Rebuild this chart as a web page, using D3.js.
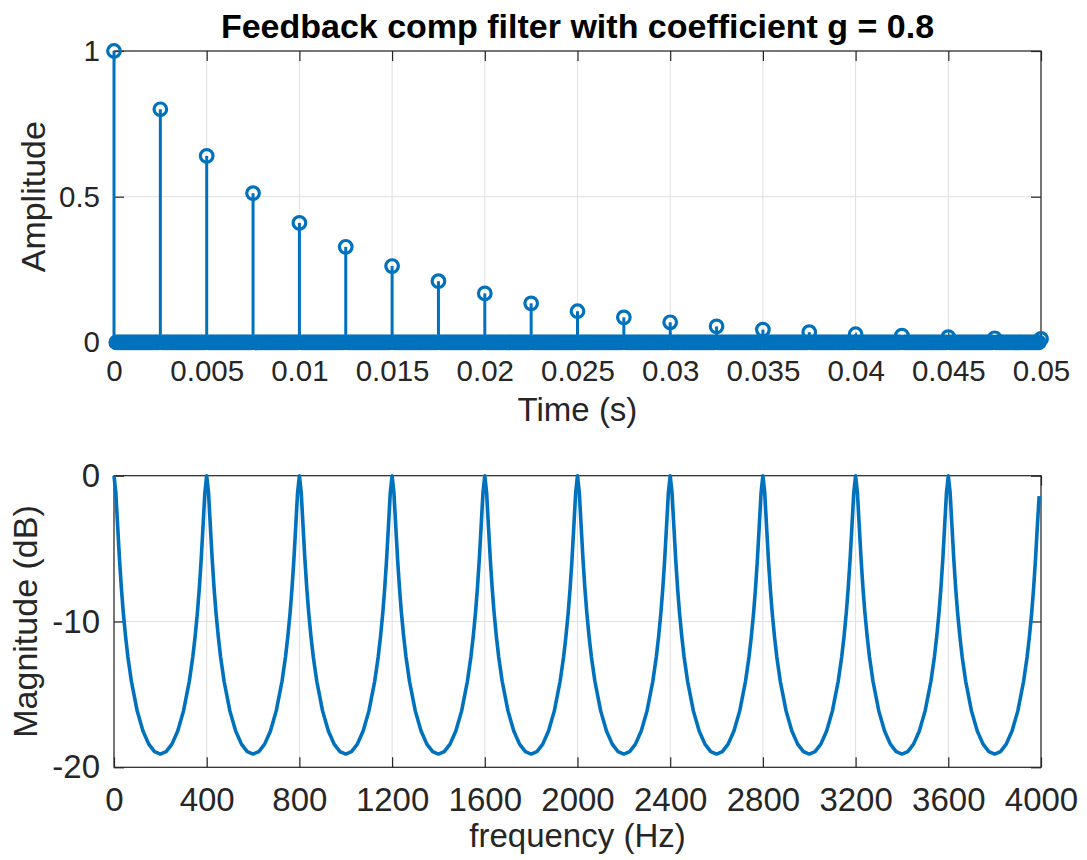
<!DOCTYPE html>
<html>
<head>
<meta charset="utf-8">
<script src="https://cdn.jsdelivr.net/npm/d3@7"></script>
<style>
  html, body { margin: 0; padding: 0; background: #fff; }
  svg { display: block; }
  text { font-family: "Liberation Sans", Arial, Helvetica, sans-serif; }
</style>
</head>
<body>
<svg id="chart" width="1087" height="860"></svg>
<script>
// ---------------- DATA ----------------
const titleText = "Feedback comp filter with coefficient g = 0.8";
const sampleRate = 8000;          // Hz
const durationSamples = 400;      // 0 .. 0.05 s
// echo (non-zero) samples of the impulse response
const echoTimes = [0, 0.0025, 0.005, 0.0075, 0.01, 0.0125, 0.015, 0.0175, 0.02, 0.0225, 0.025,
                   0.0275, 0.03, 0.0325, 0.035, 0.0375, 0.04, 0.0425, 0.045, 0.0475, 0.05];
const echoAmps  = [1, 0.8, 0.64, 0.512, 0.41, 0.328, 0.262, 0.21, 0.168, 0.134, 0.107,
                   0.086, 0.069, 0.055, 0.044, 0.035, 0.028, 0.023, 0.018, 0.014, 0.012];

const timeTicks = [0, 0.005, 0.01, 0.015, 0.02, 0.025, 0.03, 0.035, 0.04, 0.045, 0.05];
const timeTickLabels = ["0", "0.005", "0.01", "0.015", "0.02", "0.025", "0.03", "0.035", "0.04", "0.045", "0.05"];
const ampTicks = [0, 0.5, 1];
const ampTickLabels = ["0", "0.5", "1"];

// magnitude response (frequency in Hz, magnitude in dB)
const freqHz = [
  0,8,16,24,32,40,50,60,75,100,125,150,175,200,225,250,275,300,325,340,350,360,368,376,384,392,
  400,408,416,424,432,440,450,460,475,500,525,550,575,600,625,650,675,700,725,740,750,760,768,776,784,792,
  800,808,816,824,832,840,850,860,875,900,925,950,975,1000,1025,1050,1075,1100,1125,1140,1150,1160,1168,1176,1184,1192,
  1200,1208,1216,1224,1232,1240,1250,1260,1275,1300,1325,1350,1375,1400,1425,1450,1475,1500,1525,1540,1550,1560,1568,1576,1584,1592,
  1600,1608,1616,1624,1632,1640,1650,1660,1675,1700,1725,1750,1775,1800,1825,1850,1875,1900,1925,1940,1950,1960,1968,1976,1984,1992,
  2000,2008,2016,2024,2032,2040,2050,2060,2075,2100,2125,2150,2175,2200,2225,2250,2275,2300,2325,2340,2350,2360,2368,2376,2384,2392,
  2400,2408,2416,2424,2432,2440,2450,2460,2475,2500,2525,2550,2575,2600,2625,2650,2675,2700,2725,2740,2750,2760,2768,2776,2784,2792,
  2800,2808,2816,2824,2832,2840,2850,2860,2875,2900,2925,2950,2975,3000,3025,3050,3075,3100,3125,3140,3150,3160,3168,3176,3184,3192,
  3200,3208,3216,3224,3232,3240,3250,3260,3275,3300,3325,3350,3375,3400,3425,3450,3475,3500,3525,3540,3550,3560,3568,3576,3584,3592,
  3600,3608,3616,3624,3632,3640,3650,3660,3675,3700,3725,3750,3775,3800,3825,3850,3875,3900,3925,3940,3950,3960,3968,3976,3984,3992
];
const magDb = [
  0,-1.19,-3.53,-5.81,-7.74,-9.37,-11.04,-12.43,-14.10,-16.13,-17.51,-18.41,-18.92,-19.09,-18.92,-18.41,-17.51,-16.13,-14.10,-12.43,-11.04,-9.37,-7.74,-5.81,-3.53,-1.19,
  0,-1.19,-3.53,-5.81,-7.74,-9.37,-11.04,-12.43,-14.10,-16.13,-17.51,-18.41,-18.92,-19.09,-18.92,-18.41,-17.51,-16.13,-14.10,-12.43,-11.04,-9.37,-7.74,-5.81,-3.53,-1.19,
  0,-1.19,-3.53,-5.81,-7.74,-9.37,-11.04,-12.43,-14.10,-16.13,-17.51,-18.41,-18.92,-19.09,-18.92,-18.41,-17.51,-16.13,-14.10,-12.43,-11.04,-9.37,-7.74,-5.81,-3.53,-1.19,
  0,-1.19,-3.53,-5.81,-7.74,-9.37,-11.04,-12.43,-14.10,-16.13,-17.51,-18.41,-18.92,-19.09,-18.92,-18.41,-17.51,-16.13,-14.10,-12.43,-11.04,-9.37,-7.74,-5.81,-3.53,-1.19,
  0,-1.19,-3.53,-5.81,-7.74,-9.37,-11.04,-12.43,-14.10,-16.13,-17.51,-18.41,-18.92,-19.09,-18.92,-18.41,-17.51,-16.13,-14.10,-12.43,-11.04,-9.37,-7.74,-5.81,-3.53,-1.19,
  0,-1.19,-3.53,-5.81,-7.74,-9.37,-11.04,-12.43,-14.10,-16.13,-17.51,-18.41,-18.92,-19.09,-18.92,-18.41,-17.51,-16.13,-14.10,-12.43,-11.04,-9.37,-7.74,-5.81,-3.53,-1.19,
  0,-1.19,-3.53,-5.81,-7.74,-9.37,-11.04,-12.43,-14.10,-16.13,-17.51,-18.41,-18.92,-19.09,-18.92,-18.41,-17.51,-16.13,-14.10,-12.43,-11.04,-9.37,-7.74,-5.81,-3.53,-1.19,
  0,-1.19,-3.53,-5.81,-7.74,-9.37,-11.04,-12.43,-14.10,-16.13,-17.51,-18.41,-18.92,-19.09,-18.92,-18.41,-17.51,-16.13,-14.10,-12.43,-11.04,-9.37,-7.74,-5.81,-3.53,-1.19,
  0,-1.19,-3.53,-5.81,-7.74,-9.37,-11.04,-12.43,-14.10,-16.13,-17.51,-18.41,-18.92,-19.09,-18.92,-18.41,-17.51,-16.13,-14.10,-12.43,-11.04,-9.37,-7.74,-5.81,-3.53,-1.19,
  0,-1.19,-3.53,-5.81,-7.74,-9.37,-11.04,-12.43,-14.10,-16.13,-17.51,-18.41,-18.92,-19.09,-18.92,-18.41,-17.51,-16.13,-14.10,-12.43,-11.04,-9.37,-7.74,-5.81,-3.53,-1.4
];
const freqTicks = [0, 400, 800, 1200, 1600, 2000, 2400, 2800, 3200, 3600, 4000];
const freqTickLabels = ["0", "400", "800", "1200", "1600", "2000", "2400", "2800", "3200", "3600", "4000"];
const dbTicks = [-20, -10, 0];
const dbTickLabels = ["-20", "-10", "0"];

// ---------------- STYLE / LAYOUT ----------------
const blue = "#0072BD";
const axisColor = "#262626";
const gridColor = "#dfdfdf";
const left = 114, right = 1041;
const top1 = 51, bottom1 = 342.4;
const top2 = 475.7, bottom2 = 767.3;
const tickLen = 10;

const svg = d3.select("#chart");

// signal: every sample, echoes at their times, zero elsewhere
const echoIndex = new Map(echoTimes.map((t, i) => [Math.round(t * sampleRate), echoAmps[i]]));
const signal = d3.range(durationSamples + 1).map(n => ({
  t: n / sampleRate,
  v: echoIndex.has(n) ? echoIndex.get(n) : 0
}));

function drawAxesFrame(g, x, y, xTicks, xLabels, yTicks, yLabels, fontSize, xPad, yPad) {
  const [x0, x1] = x.range();
  const [yb, yt] = y.range();
  g.append("g").selectAll("line").data(xTicks).join("line")
    .attr("x1", d => x(d)).attr("x2", d => x(d)).attr("y1", yt).attr("y2", yb)
    .attr("stroke", gridColor).attr("stroke-width", 1);
  g.append("g").selectAll("line").data(yTicks).join("line")
    .attr("x1", x0).attr("x2", x1).attr("y1", d => y(d)).attr("y2", d => y(d))
    .attr("stroke", gridColor).attr("stroke-width", 1);

  const style = sel => {
    sel.select(".domain").remove();
    sel.selectAll(".tick line").attr("stroke", axisColor).attr("stroke-width", 1.2);
    sel.selectAll("text").attr("fill", axisColor).style("font-size", fontSize + "px")
      .style("font-family", '"Liberation Sans", Arial, Helvetica, sans-serif');
  };
  g.append("g").attr("transform", `translate(0,${yb})`)
    .call(d3.axisBottom(x).tickValues(xTicks).tickFormat((d, i) => xLabels[i]).tickSize(-tickLen).tickPadding(xPad))
    .call(style);
  g.append("g").attr("transform", `translate(0,${yt})`)
    .call(d3.axisTop(x).tickValues(xTicks).tickFormat("").tickSize(-tickLen))
    .call(style);
  g.append("g").attr("transform", `translate(${x0},0)`)
    .call(d3.axisLeft(y).tickValues(yTicks).tickFormat((d, i) => yLabels[i]).tickSize(-tickLen).tickPadding(yPad))
    .call(style);
  g.append("g").attr("transform", `translate(${x1},0)`)
    .call(d3.axisRight(y).tickValues(yTicks).tickFormat("").tickSize(-tickLen))
    .call(style);
  g.append("rect").attr("x", x0).attr("y", yt).attr("width", x1 - x0).attr("height", yb - yt)
    .attr("fill", "none").attr("stroke", axisColor).attr("stroke-width", 1.2);
}

// ---------------- TOP: impulse response ----------------
const xT = d3.scaleLinear().domain([0, 0.05]).range([left, right]);
const yA = d3.scaleLinear().domain([0, 1]).range([bottom1, top1]);
const g1 = svg.append("g");
drawAxesFrame(g1, xT, yA, timeTicks, timeTickLabels, ampTicks, ampTickLabels, 29.5, 17.6, 14);

const stems = g1.append("g");
stems.selectAll("line").data(signal).join("line")
  .attr("x1", d => xT(d.t)).attr("x2", d => xT(d.t))
  .attr("y1", yA(0)).attr("y2", d => yA(d.v))
  .attr("stroke", blue).attr("stroke-width", 3);
stems.selectAll("circle").data(signal).join("circle")
  .attr("cx", d => xT(d.t)).attr("cy", d => yA(d.v)).attr("r", 6.3)
  .attr("fill", "none").attr("stroke", blue).attr("stroke-width", 3.2);

svg.append("text").attr("x", (left + right) / 2).attr("y", 37.5)
  .attr("text-anchor", "middle").style("font-size", "34px").style("font-weight", "bold")
  .attr("fill", "#000").text(titleText);
svg.append("text").attr("x", (left + right) / 2).attr("y", 421)
  .attr("text-anchor", "middle").style("font-size", "33px").attr("fill", axisColor).text("Time (s)");
svg.append("text").attr("transform", `translate(45,${(top1 + bottom1) / 2}) rotate(-90)`)
  .attr("text-anchor", "middle").style("font-size", "34px").attr("fill", axisColor).text("Amplitude");

// ---------------- BOTTOM: magnitude response ----------------
const xF = d3.scaleLinear().domain([0, 4000]).range([left, right]);
const yD = d3.scaleLinear().domain([-20, 0]).range([bottom2, top2]);
const g2 = svg.append("g");
drawAxesFrame(g2, xF, yD, freqTicks, freqTickLabels, dbTicks, dbTickLabels, 33, 20, 14);

const magData = freqHz.map((f, i) => ({ f, m: magDb[i] }));
g2.append("path").datum(magData)
  .attr("d", d3.line().x(d => xF(d.f)).y(d => yD(d.m)))
  .attr("fill", "none").attr("stroke", blue).attr("stroke-width", 3.6)
  .attr("stroke-linejoin", "round");

svg.append("text").attr("x", (left + right) / 2).attr("y", 847)
  .attr("text-anchor", "middle").style("font-size", "33px").attr("fill", axisColor).text("frequency (Hz)");
svg.append("text").attr("transform", `translate(37,${(top2 + bottom2) / 2}) rotate(-90)`)
  .attr("text-anchor", "middle").style("font-size", "34px").attr("fill", axisColor).text("Magnitude (dB)");
</script>
</body>
</html>
